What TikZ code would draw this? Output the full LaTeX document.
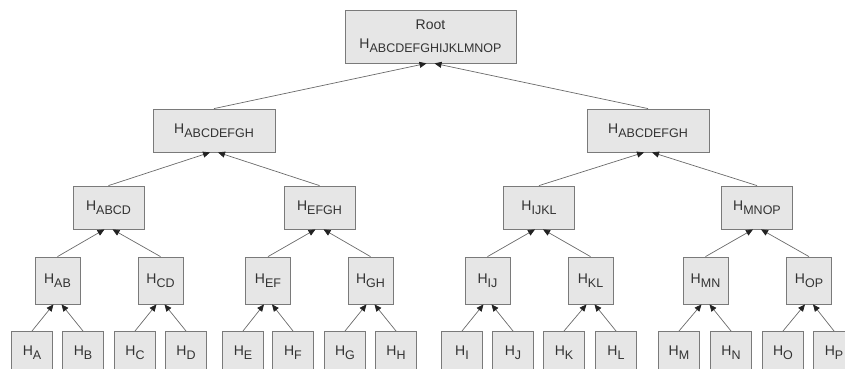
\documentclass[tikz,border=0pt]{standalone}
\usepackage{fontspec}
\setmainfont{Liberation Sans}
\usetikzlibrary{arrows.meta}
\definecolor{boxfill}{HTML}{E6E6E6}
\definecolor{boxline}{HTML}{7A7A7A}
\definecolor{edgeline}{HTML}{6A6A6A}
\definecolor{tipcol}{HTML}{222222}
\definecolor{txt}{HTML}{333333}
\newcommand{\hs}[1]{H\raisebox{-0.5ex}{\fontsize{12.5pt}{14pt}\selectfont #1}}
\tikzset{
  hbox/.style={draw=boxline, fill=boxfill, line width=0.8pt, inner sep=0pt, text=txt,
    font=\fontsize{14pt}{17pt}\selectfont, align=center},
  lvtwo/.style={hbox, minimum width=122pt, minimum height=43pt},
  lvthree/.style={hbox, minimum width=71pt, minimum height=43pt},
  lvfour/.style={hbox, minimum width=45pt, minimum height=47pt},
  leaf/.style={hbox, minimum width=41pt, minimum height=56pt, text depth=0pt},
  edge/.style={draw=edgeline, line width=0.7pt, -{Triangle[length=7pt,width=6pt,color=tipcol]}}
}
\begin{document}
\begin{tikzpicture}[x=1pt,y=-1pt]
\useasboundingbox (0,0) rectangle (845,369);
\clip (0,0) rectangle (845,369);
% root
\node[hbox, minimum width=171pt, minimum height=53pt] (root) at (430.5,36.5)
  {Root\\[2pt]\hs{ABCDEFGHIJKLMNOP}};
% level 2
\node[lvtwo] (l) at (214,130.5) {\hs{ABCDEFGH}};
\node[lvtwo] (r) at (648,130.5) {\hs{ABCDEFGH}};
% level 3
\node[lvthree] (abcd) at (108.5,207.5) {\hs{ABCD}};
\node[lvthree] (efgh) at (319.5,207.5) {\hs{EFGH}};
\node[lvthree] (ijkl) at (539,207.5) {\hs{IJKL}};
\node[lvthree] (mnop) at (757,207.5) {\hs{MNOP}};
% level 4
\node[lvfour] (ab) at (57.5,280.5) {\hs{AB}};
\node[lvfour] (cd) at (160.5,280.5) {\hs{CD}};
\node[lvfour] (ef) at (268,280.5) {\hs{EF}};
\node[lvfour] (gh) at (370.5,280.5) {\hs{GH}};
\node[lvfour] (ij) at (487.5,280.5) {\hs{IJ}};
\node[lvfour] (kl) at (590.5,280.5) {\hs{KL}};
\node[lvfour] (mn) at (705.5,280.5) {\hs{MN}};
\node[lvfour] (op) at (809,280.5) {\hs{OP}};
% leaves
\foreach \n/\x in {A/32,B/83,C/135,D/186,E/243,F/293,G/345,H/396,I/462,J/513,K/564,L/616,M/679,N/731,O/783,P/834}{
  \node[leaf, anchor=north] (leaf\n) at (\x,331) {\raisebox{17pt}{\hs{\n}}};
}
% edges
\newcommand{\pair}[3]{%
  \draw[edge] (#1.north) -- ([xshift=-4pt]#3.south);
  \draw[edge] (#2.north) -- ([xshift=4pt]#3.south);}
\pair{l}{r}{root}
\pair{abcd}{efgh}{l}
\pair{ijkl}{mnop}{r}
\pair{ab}{cd}{abcd}
\pair{ef}{gh}{efgh}
\pair{ij}{kl}{ijkl}
\pair{mn}{op}{mnop}
\pair{leafA}{leafB}{ab}
\pair{leafC}{leafD}{cd}
\pair{leafE}{leafF}{ef}
\pair{leafG}{leafH}{gh}
\pair{leafI}{leafJ}{ij}
\pair{leafK}{leafL}{kl}
\pair{leafM}{leafN}{mn}
\pair{leafO}{leafP}{op}
\end{tikzpicture}
\end{document}
